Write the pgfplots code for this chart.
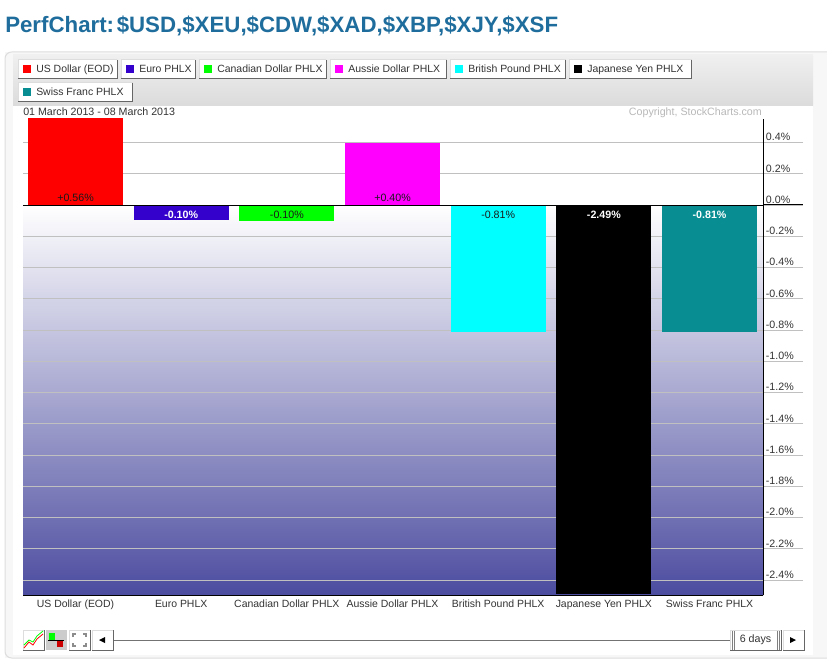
\documentclass[border=0pt]{standalone}
\usepackage{fontspec}
\setmainfont{Liberation Sans}
\usepackage{pgfplots}
\pgfplotsset{compat=1.18}
\definecolor{titleblue}{HTML}{1F6D9C}
\definecolor{cred}{HTML}{FF0000}
\definecolor{eurocol}{HTML}{3300CC}
\definecolor{cgreen}{HTML}{00FF00}
\definecolor{cmag}{HTML}{FF00FF}
\definecolor{ccyan}{HTML}{00FFFF}
\definecolor{cblack}{HTML}{000000}
\definecolor{teal2}{HTML}{088E92}
\definecolor{bgdark}{HTML}{4C4CA0}
\definecolor{gridc}{HTML}{C0C0C0}
\definecolor{edge}{HTML}{DDDDDD}
\definecolor{txt}{HTML}{333333}
\definecolor{bartxt}{HTML}{1A1A1A}
\newcommand{\lab}{\fontsize{7.85}{10}\selectfont}
\newcommand{\labb}{\fontsize{8}{10}\selectfont}
% button: left, top, right, bottom
\newcommand{\btn}[4]{%
  \fill[white] (#1,#2) rectangle (#3,#4);
  \draw[edge,line width=.75pt] (#1,#4)--(#1,#2)--(#3,#2);
  \draw[black!60,line width=.75pt] (#3,#2)--(#3,#4)--(#1,#4);}
% legend button: left, top, right, bottom, colour, name
\newcommand{\legbtn}[6]{%
  \btn{#1}{#2}{#3}{#4}
  \fill[#5] ({#1+5},{#2+5}) rectangle ({#1+13},{#2+13});
  \node[anchor=base west,inner sep=0pt,text=txt,font=\lab] at ({#1+18},{#2+13}) {#6};}
\begin{document}
\begin{tikzpicture}
\begin{scope}[shift={(0pt,498.75pt)},x=.75pt,y=-.75pt]
\useasboundingbox (0,0) rectangle (827,665);
\fill[white] (0,0) rectangle (827,665);
\node[anchor=west,inner sep=0pt,text=titleblue,font=\fontsize{16.7}{18}\selectfont\bfseries] at (5,26) {PerfChart:\kern2pt\$USD,\$XEU,\$CDW,\$XAD,\$XBP,\$XJY,\$XSF};
% panel
\fill[black!3] (5,52) rectangle (827,658);
\draw[edge,line width=.75pt,rounded corners=5pt] (827,52)--(5,52)--(5,658)--(827,658);
\fill[white] (13,106) rectangle (813,655);
\shade[top color=black!6,bottom color=black!14] (13,55) rectangle (813,106);
% legend
\legbtn{18}{60}{117}{78.5}{cred}{US Dollar (EOD)}
\legbtn{121}{60}{195}{78.5}{eurocol}{Euro PHLX}
\legbtn{199}{60}{326}{78.5}{cgreen}{Canadian Dollar PHLX}
\legbtn{330}{60}{446.5}{78.5}{cmag}{Aussie Dollar PHLX}
\legbtn{450}{60}{565.5}{78.5}{ccyan}{British Pound PHLX}
\legbtn{569}{60}{691.5}{78.5}{cblack}{Japanese Yen PHLX}
\legbtn{18}{83}{132.5}{101.5}{teal2}{Swiss Franc PHLX}
\node[anchor=base west,inner sep=0pt,text=txt,font=\labb] at (23,116) {01 March 2013 - 08 March 2013};
\node[anchor=base east,inner sep=0pt,text=black!28,font=\labb] at (762,116) {Copyright, StockCharts.com};
% plot background
\shade[top color=white,bottom color=bgdark] (23,205) rectangle (763,595);
\end{scope}
\begin{axis}[
  at={(17.25pt,52.5pt)},anchor=south west,
  scale only axis,width=555pt,height=357pt,
  xmin=-0.497,xmax=6.506,ymin=-2.495,ymax=0.552,
  axis x line*=bottom,axis y line*=right,
  axis line style={black,line width=.75pt,-},
  xtick={0,...,6},
  xticklabels={US Dollar (EOD),Euro PHLX,Canadian Dollar PHLX,Aussie Dollar PHLX,British Pound PHLX,Japanese Yen PHLX,Swiss Franc PHLX},
  x tick style={draw=none},
  xticklabel style={font=\lab,text=txt,inner sep=0pt,text height=6pt,text depth=1.7pt,yshift=26.75pt},
  ytick={-2.4,-2.2,-2.0,-1.8,-1.6,-1.4,-1.2,-1.0,-0.8,-0.6,-0.4,-0.2,0,0.2,0.4},
  yticklabels={-2.4\%,-2.2\%,-2.0\%,-1.8\%,-1.6\%,-1.4\%,-1.2\%,-1.0\%,-0.8\%,-0.6\%,-0.4\%,-0.2\%,0.0\%,0.2\%,0.4\%},
  tick align=outside,major tick length=30pt,
  y tick style={gridc,line width=.75pt},
  ymajorgrids,major grid style={gridc,line width=.75pt},
  yticklabel style={font=\labb,text=txt,anchor=west,inner sep=0pt,xshift=-28pt,yshift=4.2pt},
  ybar,bar width=0.9,bar shift=0pt,
  every axis plot/.append style={draw=none},
]
\addplot[fill=cred] coordinates {(0,0.56)};
\addplot[fill=eurocol] coordinates {(1,-0.095)};
\addplot[fill=cgreen] coordinates {(2,-0.10)};
\addplot[fill=cmag] coordinates {(3,0.40)};
\addplot[fill=ccyan] coordinates {(4,-0.81)};
\addplot[fill=cblack] coordinates {(5,-2.49)};
\addplot[fill=teal2] coordinates {(6,-0.81)};
\draw[black,line width=.75pt] (axis cs:-0.497,0)--(axis cs:6.506,0);
\node[font=\labb,text=bartxt] at (axis cs:0,0.05) {+0.56\%};
\node[font=\labb\bfseries,text=white] at (axis cs:1,-0.062) {-0.10\%};
\node[font=\labb,text=bartxt] at (axis cs:2,-0.062) {-0.10\%};
\node[font=\labb,text=bartxt] at (axis cs:3,0.05) {+0.40\%};
\node[font=\labb,text=bartxt] at (axis cs:4,-0.062) {-0.81\%};
\node[font=\labb\bfseries,text=white] at (axis cs:5,-0.062) {-2.49\%};
\node[font=\labb\bfseries,text=white] at (axis cs:6,-0.062) {-0.81\%};
\end{axis}
\begin{scope}[shift={(0pt,498.75pt)},x=.75pt,y=-.75pt]
\draw[black,line width=.75pt] (763,205)--(803,205);
% controls
\draw[black!55,line width=.75pt] (113,640.5)--(730,640.5);
\btn{23}{630}{44}{650}
\draw[cgreen,line width=.6pt] (24,645)--(29,640)--(33,642)--(37,636)--(43,631);
\draw[cred,line width=.6pt] (24,648)--(29,642)--(33,645)--(37,639)--(43,634);
\fill[black!20] (46,630) rectangle (67,650);
\fill[cgreen] (49,633) rectangle (55,640);
\fill[cred!80!black] (57,641) rectangle (63,647);
\draw[black,line width=.75pt] (48,640.5)--(64,640.5);
\btn{69}{630}{90}{650}
\draw[black!45,line width=1pt] (73,637)--(73,634)--(76,634) (83,634)--(86,634)--(86,637) (86,643)--(86,646)--(83,646) (76,646)--(73,646)--(73,643);
\btn{92}{630}{113}{650}
\fill[black] (99,640)--(105,637)--(105,643)--cycle;
\btn{730}{630}{781}{650}
\draw[black!50,line width=.4pt] (732,631)--(732,650) (734,631)--(734,650) (777,631)--(777,650) (779,631)--(779,650);
\node[font=\labb,text=txt,inner sep=0pt] at (755.5,640) {6 days};
\btn{783}{630}{804}{650}
\fill[black] (796,640)--(790,637)--(790,643)--cycle;
\end{scope}
\end{tikzpicture}
\end{document}
